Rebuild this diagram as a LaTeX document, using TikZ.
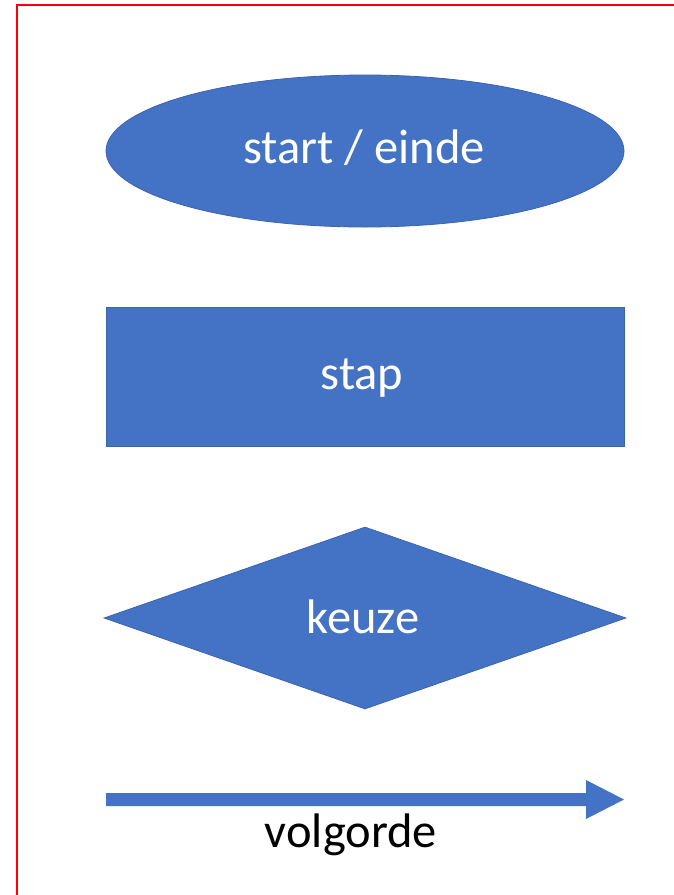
\documentclass[tikz,border=0pt]{standalone}
\usepackage{fontspec}
\setmainfont{Carlito}
\usetikzlibrary{shapes.geometric}
\definecolor{offblue}{HTML}{4472C4}
\definecolor{offedge}{HTML}{3B64AE}
\begin{document}
\begin{tikzpicture}[x=1pt,y=-1pt,
  shapebox/.style={fill=offblue,draw=offedge,line width=0.8pt,inner sep=0pt},
  lbl/.style={font=\fontsize{48.5}{56}\selectfont,anchor=base,inner sep=0pt},
]
\useasboundingbox (0,0) rectangle (674,895);
\fill[white] (0,0) rectangle (674,895);
\draw[red,line width=2pt] (17,895) -- (17,5) -- (674,5);
\node[shapebox,ellipse,minimum width=518pt,minimum height=152pt] (se) at (365,151) {};
\node[lbl,text=white] (sel) at (364,163) {start / einde};
\node[shapebox,rectangle,minimum width=518pt,minimum height=139pt] (stap) at (365,376.5) {};
\node[lbl,text=white] (stapl) at (362,389) {stap};
\node[shapebox,diamond,aspect=2.87,minimum width=522pt,minimum height=182pt] (keuze) at (365,618) {};
\node[lbl,text=white] (kl) at (363,633) {keuze};
\fill[offblue] (106,793) -- (586,793) -- (586,780) -- (624,799.5) -- (586,819) -- (586,806) -- (106,806) -- cycle;
\node[lbl,text=black] (vl) at (351,847) {volgorde};
\end{tikzpicture}
\end{document}
